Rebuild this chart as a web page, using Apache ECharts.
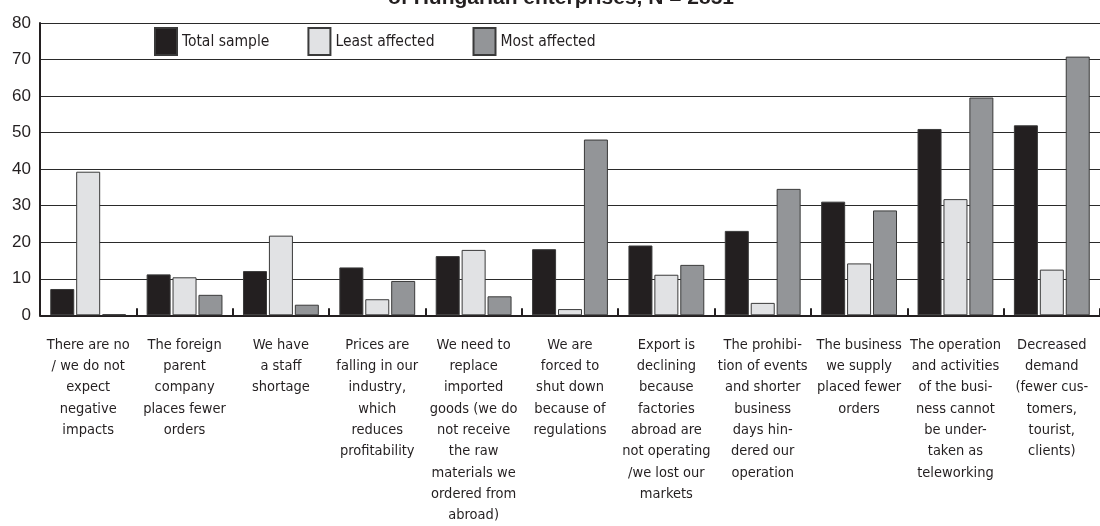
<!DOCTYPE html>
<html>
<head>
<meta charset="utf-8">
<script src="https://cdn.jsdelivr.net/npm/echarts@6/dist/echarts.min.js"></script>
<style>
  html, body { margin: 0; padding: 0; background: #fff; }
  #chart { width: 1100px; height: 526px; }
</style>
</head>
<body>
<div id="chart"></div>
<script>
// Negative impacts of the pandemic reported by Hungarian enterprises (%)
const titleText = 'of Hungarian enterprises, N = 2851';

const categories = [
  'There are no\n/ we do not\nexpect\nnegative\nimpacts',
  'The foreign\nparent\ncompany\nplaces fewer\norders',
  'We have\na staff\nshortage',
  'Prices are\nfalling in our\nindustry,\nwhich\nreduces\nprofitability',
  'We need to\nreplace\nimported\ngoods (we do\nnot receive\nthe raw\nmaterials we\nordered from\nabroad)',
  'We are\nforced to\nshut down\nbecause of\nregulations',
  'Export is\ndeclining\nbecause\nfactories\nabroad are\nnot operating\n/we lost our\nmarkets',
  'The prohibi-\ntion of events\nand shorter\nbusiness\ndays hin-\ndered our\noperation',
  'The business\nwe supply\nplaced fewer\norders',
  'The operation\nand activities\nof the busi-\nness cannot\nbe under-\ntaken as\nteleworking',
  'Decreased\ndemand\n(fewer cus-\ntomers,\ntourist,\nclients)'
];

const seriesNames = ['Total sample', 'Least affected', 'Most affected'];

const totalSample   = [7.2, 11.2, 12.1, 13.1, 16.2, 18.1, 19.1, 23.1, 31.1, 51.0, 52.0];
const leastAffected = [39.3, 10.4, 21.8, 4.4, 17.9, 1.7, 11.1, 3.4, 14.2, 31.8, 12.5];
const mostAffected  = [0.3, 5.6, 2.9, 9.4, 5.2, 48.1, 13.8, 34.6, 28.7, 59.6, 70.8];

const yTicks = { min: 0, max: 80, interval: 10 };

const narrow = '"DejaVu Sans Condensed", "Liberation Sans Narrow", sans-serif';
const ink = '#231f20';
const fills = ['#231f20', '#e1e2e4', '#939598'];

const chart = echarts.init(document.getElementById('chart'), null, { renderer: 'canvas' });

const values = [totalSample, leastAffected, mostAffected];

chart.setOption({
  animation: false,
  backgroundColor: '#ffffff',
  title: {
    text: titleText,
    left: 383,
    top: -17,
    textStyle: {
      fontFamily: '"Liberation Sans", Arial, sans-serif',
      fontWeight: 'bold',
      fontSize: 21,
      color: '#231f20'
    }
  },
  legend: {
    left: 154,
    top: 27,
    padding: 0,
    itemWidth: 22,
    itemHeight: 27,
    itemGap: 38,
    icon: 'rect',
    data: seriesNames,
    textStyle: { fontFamily: narrow, fontSize: 15.5, color: ink }
  },
  grid: {
    left: 40,
    right: -2,
    top: 23,
    bottom: 208,
    containLabel: false
  },
  xAxis: {
    type: 'category',
    data: categories,
    boundaryGap: true,
    axisLine: { lineStyle: { color: ink, width: 2 } },
    axisTick: { show: true, inside: true, length: 7, lineStyle: { color: ink, width: 2 } },
    axisLabel: {
      interval: 0,
      margin: 19,
      fontFamily: narrow,
      fontSize: 14.5,
      lineHeight: 21.3,
      color: ink,
      align: 'center'
    },
    splitLine: { show: false }
  },
  yAxis: {
    type: 'value',
    min: yTicks.min,
    max: yTicks.max,
    interval: yTicks.interval,
    axisLine: { show: true, lineStyle: { color: ink, width: 2 } },
    axisTick: { show: false },
    axisLabel: {
      margin: 9,
      fontFamily: '"Liberation Sans", Arial, sans-serif',
      fontSize: 17,
      color: ink
    },
    splitLine: { show: true, lineStyle: { color: '#2a2a2a', width: 1 } }
  },
  series: seriesNames.map((name, i) => ({
    name: name,
    type: 'bar',
    data: values[i],
    barWidth: 24,
    barGap: '8%',
    itemStyle: {
      color: fills[i],
      borderColor: '#3a3a3a',
      borderWidth: 1
    },
    emphasis: { disabled: true }
  }))
});
</script>
</body>
</html>
